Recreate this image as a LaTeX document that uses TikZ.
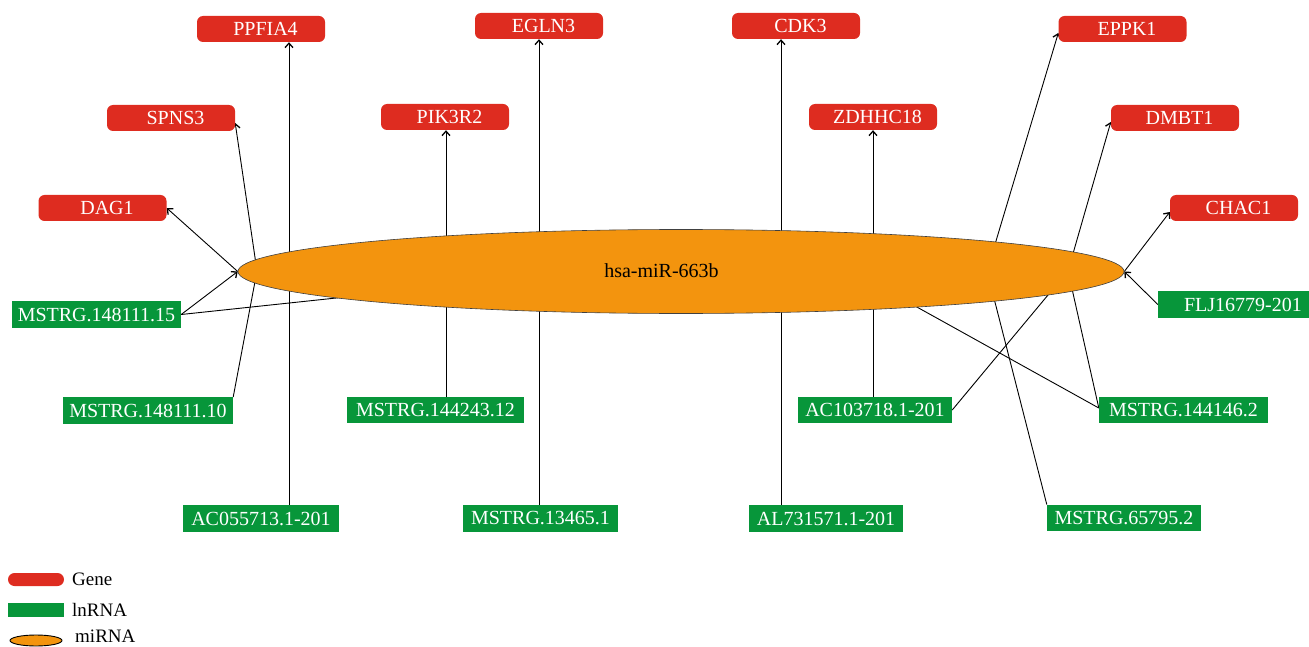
\documentclass[tikz,border=0pt]{standalone}
\usepackage{fontspec}
\setmainfont{Liberation Serif}
\usetikzlibrary{arrows.meta,shapes.geometric,backgrounds}
\definecolor{genered}{HTML}{DE2C20}
\definecolor{lncgreen}{HTML}{07963A}
\definecolor{mirorange}{HTML}{F3940E}
\newcommand{\boxfont}{\fontsize{20}{24}\selectfont}
\newcommand{\legfont}{\fontsize{19}{22}\selectfont}
\begin{document}
\begin{tikzpicture}[x=1pt,y=-1pt,
  gene/.style={fill=genered, rounded corners=6pt, minimum width=128pt, minimum height=26pt, inner sep=0pt, text=white, font=\boxfont},
  lnc/.style={fill=lncgreen, minimum height=26.5pt, inner sep=0pt, text=white, font=\boxfont},
  edge/.style={line width=0.9pt, -{Straight Barb[length=4.5pt,width=8pt,line width=1.3pt]}},
  legtext/.style={anchor=west, inner sep=0pt, font=\legfont}]
\useasboundingbox (0,0) rectangle (1309,647);
\clip (0,0) rectangle (1309,647);

% miRNA
\node[ellipse, fill=mirorange, draw=black!75, line width=0.6pt, minimum width=886pt, minimum height=84pt, inner sep=0pt] (mir) at (681,271.5) {};
\node[font=\fontsize{20}{24}\selectfont, inner sep=0pt] (mirlabel) at (661.5,271) {hsa-miR-663b};

% genes
\node[gene] (ppfia4) at (261,29) {\hspace*{9pt}PPFIA4};
\node[gene] (spns3) at (171,118) {\hspace*{9pt}SPNS3};
\node[gene] (dag1) at (102.5,208) {\hspace*{9pt}DAG1};
\node[gene] (pik3r2) at (445,117) {\hspace*{9pt}PIK3R2};
\node[gene] (egln3) at (539,26) {\hspace*{9pt}EGLN3};
\node[gene] (cdk3) at (796,26) {\hspace*{9pt}CDK3};
\node[gene] (zdhhc18) at (873,117) {\hspace*{9pt}ZDHHC18};
\node[gene] (eppk1) at (1122.5,29) {\hspace*{9pt}EPPK1};
\node[gene] (dmbt1) at (1175,118) {\hspace*{9pt}DMBT1};
\node[gene] (chac1) at (1234,208) {\hspace*{9pt}CHAC1};

% lncRNAs
\node[lnc, minimum width=169pt] (ms15) at (96.5,314.5) {MSTRG.148111.15};
\node[lnc, minimum width=170pt] (ms10) at (148,410.5) {MSTRG.148111.10};
\node[lnc, minimum width=177pt] (ms243) at (435.5,410) {MSTRG.144243.12};
\node[lnc, minimum width=156pt] (ac055) at (261,518.5) {AC055713.1-201};
\node[lnc, minimum width=155pt] (ms13465) at (540.5,518.5) {MSTRG.13465.1};
\node[lnc, minimum width=154pt] (al731) at (826,518.5) {AL731571.1-201};
\node[lnc, minimum width=154pt] (ac103) at (875,410) {AC103718.1-201};
\node[lnc, minimum width=169pt] (ms146) at (1183.5,410) {MSTRG.144146.2};
\node[lnc, minimum width=154pt] (ms65795) at (1124,518) {MSTRG.65795.2};
\node[lnc, minimum width=170pt] (flj) at (1243,304.5) {FLJ16779-201};

% hidden junctions inside the miRNA
\coordinate (p1) at (257,271);
\coordinate (p2) at (289,271);
\coordinate (p3) at (446,271);
\coordinate (p4) at (539,271);
\coordinate (p5) at (781,271);
\coordinate (p6) at (873,271);
\coordinate (p7) at (987,271);
\coordinate (p8) at (1068,271);
\coordinate (p9) at (590,271);
\coordinate (p10) at (852,271);

\begin{scope}[on background layer]
\draw[edge] (ms15.east) -- (mir.west);
\draw[edge] (mir.west) -- (dag1.east);
\draw[edge] (ms15.east) -- (p9);
\draw[edge] (ms10.north east) -- (p1);
\draw[edge] (p1) -- ([yshift=-5pt]spns3.east);
\draw[edge] (ac055.north -| p2) -- (p2);
\draw[edge] (p2) -- (ppfia4.south -| p2);
\draw[edge] (ms243.north -| p3) -- (p3);
\draw[edge] (p3) -- (pik3r2.south -| p3);
\draw[edge] (ms13465.north -| p4) -- (p4);
\draw[edge] (p4) -- (egln3.south -| p4);
\draw[edge] (al731.north -| p5) -- (p5);
\draw[edge] (p5) -- (cdk3.south -| p5);
\draw[edge] (ac103.north -| p6) -- (p6);
\draw[edge] (p6) -- (zdhhc18.south -| p6);
\draw[edge] (ac103.east) -- (p8);
\draw[edge] ([yshift=2pt]ms146.west) -- (p8);
\draw[edge] ([yshift=2pt]ms146.west) -- (p10);
\draw[edge] (ms65795.north west) -- (p7);
\draw[edge] (p7) -- ([yshift=-4pt]eppk1.west);
\draw[edge] (p8) -- ([yshift=-4pt]dmbt1.west);
\draw[edge] (flj.west) -- (mir.east);
\draw[edge] (mir.east) -- ([yshift=-4pt]chac1.west);
\end{scope}

% legend
\node[fill=genered, rounded corners=6.5pt, minimum width=56pt, minimum height=13pt, inner sep=0pt] (leggene) at (36,579.5) {};
\node[legtext] (leggenetext) at (72,579) {Gene};
\node[fill=lncgreen, minimum width=56pt, minimum height=14pt, inner sep=0pt] (leglnc) at (36,610) {};
\node[legtext] (leglnctext) at (72,609.5) {lnRNA};
\node[ellipse, fill=mirorange, draw=black, line width=0.9pt, minimum width=52pt, minimum height=11pt, inner sep=0pt] (legmir) at (36,640.5) {};
\node[legtext] (legmirtext) at (75,636.5) {miRNA};
\end{tikzpicture}
\end{document}
